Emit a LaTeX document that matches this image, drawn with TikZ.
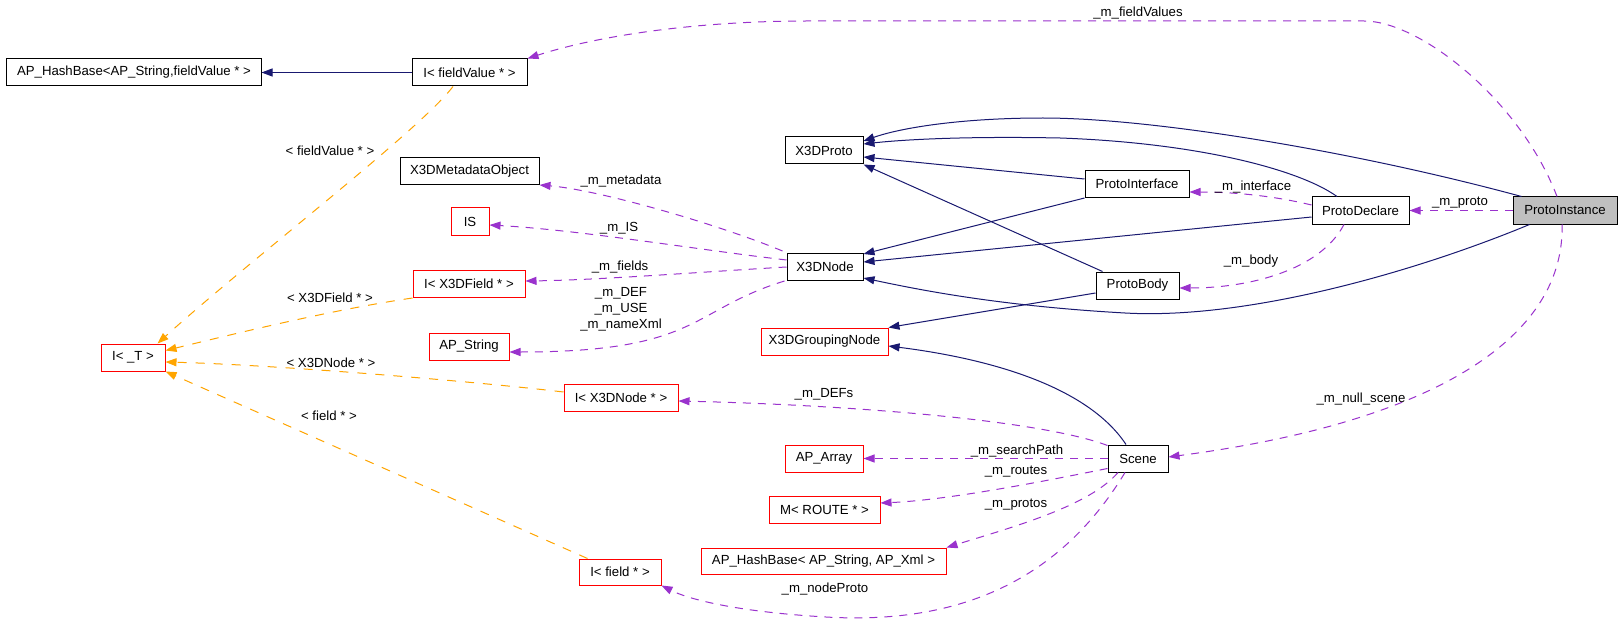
\documentclass[tikz,border=0pt]{standalone}
\usepackage{fontspec}
\setmainfont{Liberation Sans}
\usetikzlibrary{arrows.meta}
\definecolor{navy}{HTML}{191970}
\definecolor{orch}{HTML}{9A32CD}
\definecolor{orng}{HTML}{FFA500}
\definecolor{boxred}{HTML}{FF0000}
\definecolor{grayfill}{HTML}{BFBFBF}
\tikzset{
  box/.style={draw=black, line width=1bp, inner sep=0pt, minimum height=27bp,
    font=\fontsize{13.2bp}{16bp}\selectfont, anchor=center},
  redbox/.style={box, draw=boxred},
  lbl/.style={inner sep=0pt, anchor=center, font=\fontsize{13.2bp}{16bp}\selectfont, align=center},
  inh/.style={draw=navy, line width=1bp, -{Triangle[length=11bp,width=8bp]}},
  agg/.style={draw=orch, line width=1bp, dash pattern=on 8bp off 7bp, -{Triangle[length=11bp,width=8bp,fill=orch]}},
  tmpl/.style={draw=orng, line width=1bp, dash pattern=on 9bp off 9bp, -{Triangle[length=11bp,width=8bp,fill=orng]}},
}
\begin{document}
\begin{tikzpicture}[x=1bp,y=-1bp]
\fill[white] (0,0) rectangle (1621,628);
\useasboundingbox (0,0) rectangle (1621,628);

% nodes
\node[box, minimum width=254bp] (hashFV) at (134,72.5) {AP\_HashBase<AP\_String,fieldValue * >};
\node[box, minimum width=115bp] (IFV) at (469.5,72.5) {I< fieldValue * >};
\node[box, minimum width=139bp] (meta) at (469.5,171) {X3DMetadataObject};
\node[redbox, minimum width=38bp] (IS) at (470,221.5) {IS};
\node[redbox, minimum width=112bp] (IX3DF) at (469,284) {I< X3DField * >};
\node[redbox, minimum width=80bp] (APS) at (469,346.5) {AP\_String};
\node[redbox, minimum width=64bp] (IT) at (133,357.5) {I< \_T >};
\node[box, minimum width=78bp] (X3DProto) at (824,150.5) {X3DProto};
\node[box, minimum width=76bp] (X3DNode) at (825,267) {X3DNode};
\node[redbox, minimum width=127bp] (XGN) at (824.5,341.5) {X3DGroupingNode};
\node[box, minimum width=104bp] (PI) at (1137,184) {ProtoInterface};
\node[box, minimum width=97bp] (PD) at (1360.5,210.5) {ProtoDeclare};
\node[box, minimum width=104bp, fill=grayfill] (PInst) at (1565,210.5) {ProtoInstance};
\node[box, minimum width=83bp] (PB) at (1137.5,285.5) {ProtoBody};
\node[redbox, minimum width=114bp] (IXN) at (621,397.5) {I< X3DNode * >};
\node[redbox, minimum width=78bp] (APA) at (824,458.5) {AP\_Array};
\node[redbox, minimum width=111bp] (MR) at (824.5,509.5) {M< ROUTE * >};
\node[redbox, minimum width=245bp, minimum height=26bp] (HX) at (823.5,561) {AP\_HashBase< AP\_String, AP\_Xml >};
\node[redbox, minimum width=82bp, minimum height=26bp] (If) at (620,572) {I< field * >};
\node[box, minimum width=60bp] (Scene) at (1138,458.5) {Scene};

% inheritance (navy)
\draw[inh] (IFV.west) -- (hashFV.east);
\draw[inh] ([xshift=9bp]PInst.north west) .. controls (1350,150) and (1150,118) .. (1043,118) .. controls (960,118) and (900,128) .. ([yshift=9.5bp]X3DProto.east);
\draw[inh] ([xshift=-23.5bp]PD.north) .. controls (1300,170) and (1200,143) .. (1060,138) .. controls (960,136) and (900,140) .. ([yshift=6.5bp]X3DProto.east);
\draw[inh] ([yshift=5bp]PI.west) -- ([yshift=-6.5bp]X3DProto.east);
\draw[inh] ([xshift=7bp]PB.north west) -- (X3DProto.south east);
\draw[inh] (PI.south west) -- ([yshift=13bp]X3DNode.east);
\draw[inh] ([yshift=-6.5bp]PD.west) -- ([yshift=5bp]X3DNode.east);
\draw[inh] ([xshift=17bp]PInst.south west) .. controls (1420,270) and (1250,320) .. (1125,313) .. controls (1000,306) and (920,290) .. ([yshift=-11bp]X3DNode.east);
\draw[inh] ([yshift=-7.5bp]PB.west) -- (XGN.north east);
\draw[inh] ([xshift=-12bp]Scene.north) .. controls (1090,390) and (1000,360) .. ([yshift=-4.5bp]XGN.east);

% template instances (orange)
\draw[tmpl] ([xshift=-16.5bp]IFV.south) .. controls (420,130) and (250,260) .. ([xshift=-8bp]IT.north east);
\draw[tmpl] (IX3DF.south west) .. controls (330,310) and (230,335) .. ([yshift=7bp]IT.east);
\draw[tmpl] ([yshift=5.5bp]IXN.west) .. controls (480,382) and (280,365) .. ([yshift=-4.5bp]IT.east);
\draw[tmpl] ([xshift=9bp]If.north west) -- (IT.south east);

% usage (purple)
\draw[agg] ([xshift=-8bp]PInst.north) .. controls (1520,100) and (1420,21) .. (1364,21) -- (807,21) .. controls (700,21) and (600,35) .. (IFV.north east);
\draw[agg] ([xshift=-4bp,yshift=2bp]X3DNode.north west) .. controls (720,225) and (600,190) .. (meta.south east);
\draw[agg] ([yshift=7bp]X3DNode.west) .. controls (700,250) and (580,230) .. ([yshift=-3.5bp]IS.east);
\draw[agg] (X3DNode.west) .. controls (700,272) and (600,280) .. ([yshift=3bp]IX3DF.east);
\draw[agg] ([xshift=-2bp]X3DNode.south west) .. controls (690,310) and (700,352) .. ([yshift=-5.5bp]APS.east);
\draw[agg] ([yshift=5.5bp]PD.west) .. controls (1270,195) and (1230,192) .. ([yshift=-8bp]PI.east);
\draw[agg] (PInst.west) -- (PD.east);
\draw[agg] ([xshift=-16.5bp]PD.south) .. controls (1320,270) and (1250,288) .. ([yshift=-2.5bp]PB.east);
\draw[agg] ([xshift=-3bp]PInst.south) .. controls (1565,330) and (1450,420) .. ([yshift=1.5bp]Scene.east);
\draw[agg] ([yshift=-1bp]Scene.north west) .. controls (1040,420) and (850,405) .. ([yshift=-3.5bp]IXN.east);
\draw[agg] (Scene.west) -- (APA.east);
\draw[agg] ([yshift=-10bp]Scene.west) .. controls (1050,480) and (950,500) .. ([yshift=6.5bp]MR.east);
\draw[agg] ([xshift=-20bp]Scene.south) .. controls (1090,505) and (1020,525) .. (HX.north east);
\draw[agg] ([xshift=-13bp]Scene.south) .. controls (1060,580) and (960,625) .. (826,617) .. controls (740,612) and (690,600) .. (If.south east);

% labels
\node[lbl] (l1) at (1138,13) {\_m\_fieldValues};
\node[lbl] (l2) at (330,151) {< fieldValue * >};
\node[lbl] (l3) at (330,298) {< X3DField * >};
\node[lbl] (l4) at (331,363) {< X3DNode * >};
\node[lbl] (l5) at (329,416) {< field * >};
\node[lbl] (l6) at (621,181) {\_m\_metadata};
\node[lbl] (l7) at (619,228) {\_m\_IS};
\node[lbl] (l8) at (620,267) {\_m\_fields};
\node[lbl] (l9) at (621,309) {\_m\_DEF\\\_m\_USE\\\_m\_nameXml};
\node[lbl] (l10) at (1253,187) {\_m\_interface};
\node[lbl] (l11) at (1460,203) {\_m\_proto};
\node[lbl] (l12) at (1251,261) {\_m\_body};
\node[lbl] (l13) at (1361,399) {\_m\_null\_scene};
\node[lbl] (l14) at (824,394) {\_m\_DEFs};
\node[lbl] (l15) at (1017,451) {\_m\_searchPath};
\node[lbl] (l16) at (1016,472) {\_m\_routes};
\node[lbl] (l17) at (1016,505) {\_m\_protos};
\node[lbl] (l18) at (825,589) {\_m\_nodeProto};
\end{tikzpicture}
\end{document}
